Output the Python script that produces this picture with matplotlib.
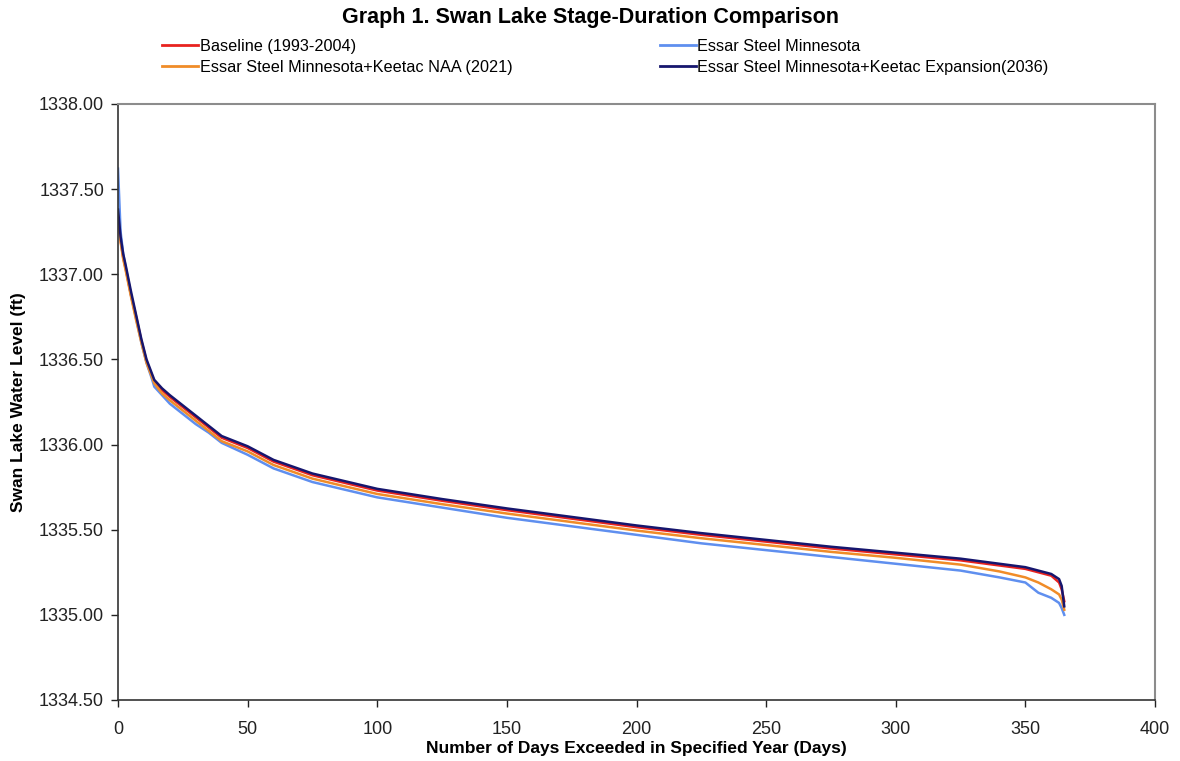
import matplotlib
matplotlib.use("Agg")
import matplotlib.pyplot as plt
from matplotlib.lines import Line2D

plt.rcParams['font.family'] = ['Liberation Sans', 'DejaVu Sans']

days = [0, 1, 2, 3, 5, 7, 9, 11, 13, 14, 17, 20, 25, 30, 35, 40, 50, 60, 75,
        100, 125, 150, 175, 200, 225, 250, 275, 300, 325, 340, 350, 355, 360,
        363, 364, 365]

expansion = [1337.38, 1337.22, 1337.12, 1337.05, 1336.90, 1336.76, 1336.62,
             1336.50, 1336.42, 1336.38, 1336.33, 1336.29, 1336.23, 1336.17,
             1336.11, 1336.05, 1335.99, 1335.91, 1335.83, 1335.74, 1335.68,
             1335.625, 1335.575, 1335.525, 1335.48, 1335.44, 1335.40, 1335.365,
             1335.33, 1335.30, 1335.28, 1335.26, 1335.24, 1335.21, 1335.17,
             1335.05]

baseline = [1337.33, 1337.20, 1337.10, 1337.03, 1336.88, 1336.75, 1336.61,
            1336.49, 1336.41, 1336.37, 1336.32, 1336.28, 1336.22, 1336.16,
            1336.10, 1336.04, 1335.98, 1335.90, 1335.82, 1335.73, 1335.67,
            1335.615, 1335.565, 1335.515, 1335.47, 1335.43, 1335.39, 1335.355,
            1335.32, 1335.29, 1335.27, 1335.25, 1335.23, 1335.19, 1335.15,
            1335.08]

naa = [1337.34, 1337.19, 1337.09, 1337.02, 1336.87, 1336.73, 1336.60,
       1336.48, 1336.40, 1336.36, 1336.30, 1336.26, 1336.20, 1336.14,
       1336.08, 1336.02, 1335.96, 1335.88, 1335.80, 1335.71, 1335.65,
       1335.595, 1335.545, 1335.495, 1335.45, 1335.41, 1335.37, 1335.335,
       1335.295, 1335.255, 1335.22, 1335.19, 1335.15, 1335.12, 1335.09,
       1335.03]

essar = [1337.62, 1337.25, 1337.12, 1337.04, 1336.88, 1336.74, 1336.60,
         1336.48, 1336.39, 1336.34, 1336.29, 1336.24, 1336.18, 1336.12,
         1336.07, 1336.01, 1335.94, 1335.86, 1335.78, 1335.69, 1335.63,
         1335.57, 1335.52, 1335.47, 1335.42, 1335.38, 1335.34, 1335.30,
         1335.26, 1335.22, 1335.19, 1335.13, 1335.10, 1335.07, 1335.04,
         1335.00]

labels = ["Baseline (1993-2004)", "Essar Steel Minnesota",
          "Essar Steel Minnesota+Keetac NAA (2021)",
          "Essar Steel Minnesota+Keetac Expansion(2036)"]
colors = ["#e8231f", "#5f8fef", "#f08c28", "#16166e"]

yticks = [1334.5, 1335.0, 1335.5, 1336.0, 1336.5, 1337.0, 1337.5, 1338.0]
xticks = [0, 50, 100, 150, 200, 250, 300, 350, 400]

fig = plt.figure(figsize=(11.8, 7.61), dpi=100)
ax = fig.add_axes([0.1, 1 - 700 / 761, (1155 - 118) / 1180, (700 - 104) / 761])

series = [baseline, essar, naa, expansion]
for s, c in zip(series, colors):
    ax.plot(days, s, color=c, lw=1.8, solid_joinstyle='round')

ax.set_xlim(0, 400)
ax.set_ylim(1334.5, 1338.0)
ax.set_xticks(xticks)
ax.set_yticks(yticks)
ax.set_yticklabels([f"{v:.2f}" for v in yticks])
ax.tick_params(axis='both', direction='out', length=5, labelsize=13,
               colors='#222222', width=1)
ax.tick_params(axis='x', pad=10)
ax.tick_params(axis='y', pad=5)
for side in ['left', 'bottom']:
    ax.spines[side].set_color('#333333')
    ax.spines[side].set_linewidth(1.2)
for side in ['top', 'right']:
    ax.spines[side].set_color('#8c8c8c')
    ax.spines[side].set_linewidth(1.5)

ax.set_xlabel("Number of Days Exceeded in Specified Year (Days)",
              fontsize=12.5, fontweight='bold', labelpad=2)
ax.set_ylabel("Swan Lake Water Level (ft)", fontsize=12.5, fontweight='bold',
              labelpad=9)

fig.text(0.5, 1 - 17 / 761, "Graph 1. Swan Lake Stage-Duration Comparison",
         ha='center', va='center', fontsize=15.5, fontweight='bold')

handles = [Line2D([], [], color=c, lw=2) for c in colors]
common = dict(frameon=False, fontsize=11.7, handlelength=2.2,
              handletextpad=0.1, labelspacing=0.38, borderpad=0,
              loc='center left')
leg1 = fig.legend([handles[0], handles[2]], [labels[0], labels[2]],
                  bbox_to_anchor=(154 / 1180, 1 - 57 / 761), **common)
leg2 = fig.legend([handles[1], handles[3]], [labels[1], labels[3]],
                  bbox_to_anchor=(652 / 1180, 1 - 57 / 761), **common)

fig.savefig("out.png", dpi=100)
